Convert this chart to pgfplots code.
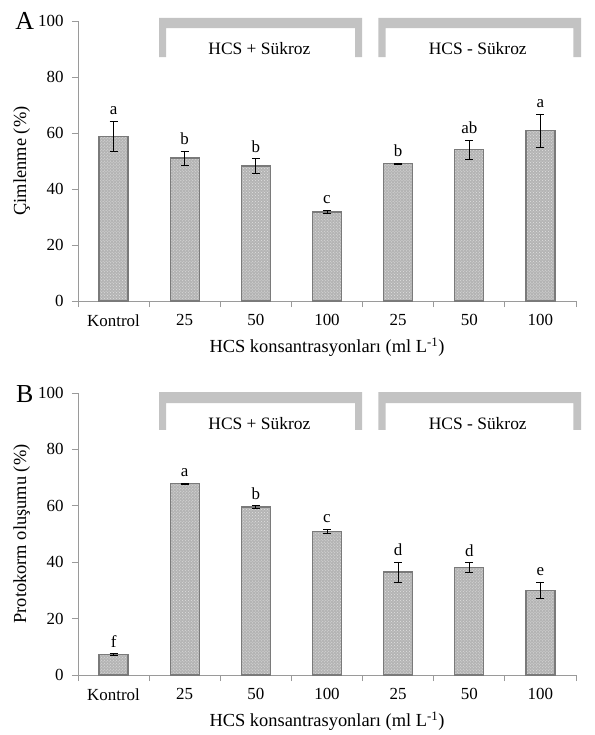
\documentclass[border=0pt]{standalone}
\usepackage{pgfplots}
\usepackage{pgfplotstable}
\pgfplotsset{compat=1.18}
\usepackage{fontspec}
\setmainfont{Liberation Serif}
\usetikzlibrary{patterns}
\definecolor{axgray}{HTML}{9A9A9A}
\definecolor{brgray}{HTML}{C3C3C3}
\definecolor{barfill}{HTML}{B4B4B4}
\definecolor{baredge}{HTML}{7A7A7A}

\pgfplotstableread{
x y e lab
0 58.8 5.4 a
1 51.1 2.5 b
2 48.2 2.6 b
3 31.8 0.6 c
4 49.0 0.3 b
5 54.1 3.4 ab
6 60.9 5.9 a
}\dataA

\pgfplotstableread{
x y e lab
0 7.3 0.3 f
1 67.8 0.3 a
2 59.6 0.5 b
3 51.0 0.7 c
4 36.5 3.6 d
5 38.1 1.8 d
6 30.0 3.0 e
}\dataB

\pgfplotsset{
 panel/.style={
  scale only axis, width=498bp, height=280bp,
  xmin=-0.5, xmax=6.5, ymin=0, ymax=100,
  axis lines*=left,
  axis line style={axgray, line width=0.8bp},
  ytick={0,20,...,100},
  xtick={-0.5,0.5,...,6.5},
  xticklabels={},
  extra x ticks={0,...,6},
  extra x tick labels={Kontrol,25,50,100,25,50,100},
  extra x tick style={major tick length=0pt, tick style={draw=none}},
  tick style={axgray, line width=0.8bp},
  tick align=outside,
  major tick length=6bp,
  ticklabel style={font=\fontsize{17}{19}\selectfont},
  /pgf/number format/assume math mode=true,
  xticklabel style={yshift=-10bp},
  yticklabel style={xshift=-5bp},
  every axis y label/.style={at={(axis description cs:-0.113,0.5)}, rotate=90, anchor=center, font=\fontsize{18.5}{20}\selectfont},
  every axis x label/.style={at={(axis description cs:0.5,-0.164)}, anchor=center, font=\fontsize{18.5}{20}\selectfont},
  xlabel={HCS konsantrasyonları (ml L\textsuperscript{-1})},
  clip=false,
 },
 bars/.style={ybar, bar width=29bp, fill=barfill, draw=baredge, line width=1.2bp,
  postaction={pattern=crosshatch dots, pattern color=white!60!barfill},
  error bars/.cd, y dir=both, y explicit,
  error bar style={black, line width=0.8bp},
  error mark options={rotate=90, mark size=4bp, black, line width=0.8bp}},
 letters/.style={draw=none, mark=none, nodes near coords, point meta=explicit symbolic,
  nodes near coords style={anchor=south, inner sep=0pt, yshift=6bp, font=\fontsize{17}{19}\selectfont}},
}

\newcommand{\brackets}[5]{%
 \fill[brgray] (axis cs:0.639,#3) -- (axis cs:0.639,#1) -- (axis cs:3.492,#1) -- (axis cs:3.492,#3) -- (axis cs:3.394,#3) -- (axis cs:3.394,#2) -- (axis cs:0.737,#2) -- (axis cs:0.737,#3) -- cycle;
 \fill[brgray] (axis cs:3.721,#3) -- (axis cs:3.721,#1) -- (axis cs:6.571,#1) -- (axis cs:6.571,#3) -- (axis cs:6.462,#3) -- (axis cs:6.462,#2) -- (axis cs:3.825,#2) -- (axis cs:3.825,#3) -- cycle;
 \node[font=\fontsize{17.5}{19}\selectfont] at (axis cs:2.05,#4) {HCS + Sükroz};
 \node[font=\fontsize{17.5}{19}\selectfont] at (axis cs:5.12,#5) {HCS - Sükroz};
}

\begin{document}
\begin{tikzpicture}
\path[use as bounding box] (0,0) rectangle (595bp,-735bp);

\begin{axis}[panel, at={(78bp,-301bp)}, anchor=south west, ylabel={Çimlenme (\%)}]
\brackets{101.1}{97.5}{87.1}{90.2}{90.2}
\addplot[bars] table[x=x, y=y, y error=e] {\dataA};
\addplot[letters] table[x=x, y expr=\thisrow{y}+\thisrow{e}, meta=lab] {\dataA};
\node[font=\fontsize{26}{28}\selectfont, anchor=center] at (axis description cs:-0.107,1.0) {A};
\end{axis}

\begin{axis}[panel, at={(78bp,-675bp)}, anchor=south west, height=282bp, ylabel={Protokorm oluşumu (\%)}]
\brackets{100.3}{96.4}{86.9}{89.2}{89.2}
\addplot[bars] table[x=x, y=y, y error=e] {\dataB};
\addplot[letters] table[x=x, y expr=\thisrow{y}+\thisrow{e}, meta=lab] {\dataB};
\node[font=\fontsize{26}{28}\selectfont, anchor=center] at (axis description cs:-0.107,0.995) {B};
\end{axis}
\end{tikzpicture}
\end{document}
